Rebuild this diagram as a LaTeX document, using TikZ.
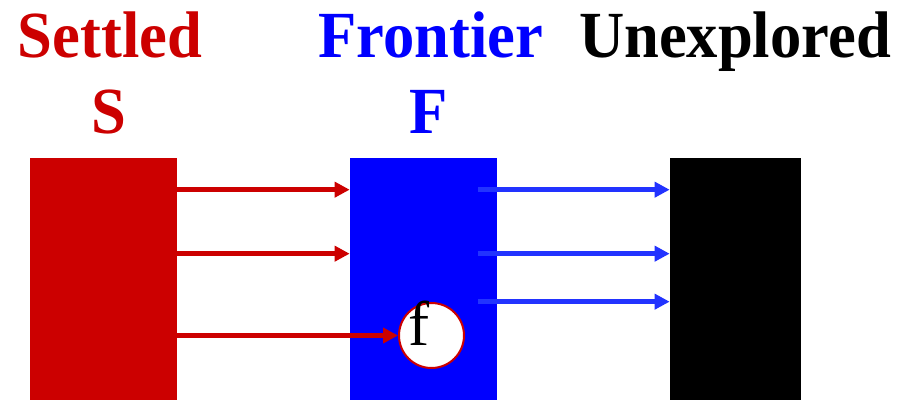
\documentclass[tikz,border=0pt]{standalone}
\usepackage{fontspec}
\usepackage{graphicx}
\setmainfont{Liberation Serif}
\usetikzlibrary{calc,arrows.meta}
\definecolor{setred}{HTML}{CC0000}
\definecolor{frblue}{HTML}{0000FF}
\definecolor{arblue}{HTML}{2233FF}
\newcommand{\narrow}[1]{\scalebox{0.95}[1]{#1}}
\begin{document}
\begin{tikzpicture}[x=0.02cm,y=-0.02cm,
  title/.style={font=\fontsize{37.5}{37.5}\selectfont\bfseries,inner sep=0pt,anchor=base},
  box/.style={rectangle,inner sep=0pt,minimum height=4.84cm},
  redarrow/.style={setred,line width=0.09cm,-{Triangle[length=0.3cm,width=0.3cm]}},
  bluearrow/.style={arblue,line width=0.09cm,-{Triangle[length=0.3cm,width=0.3cm]}}]
\useasboundingbox (0,0) rectangle (897,403);

\node[title,setred] (lblsettled) at (110,57) {\narrow{Settled}};
\node[title,setred] (lbls) at (109,133) {\narrow{S}};
\node[title,frblue] (lblfrontier) at (431,57) {\narrow{Frontier}};
\node[title,frblue] (lblf) at (429,133) {\narrow{F}};
\node[title] (lblunexplored) at (735,57) {\narrow{Unexplored}};

\node[box,fill=setred,minimum width=2.94cm] (settled) at (103.5,279) {};
\node[box,fill=frblue,minimum width=2.94cm] (frontier) at (423.5,279) {};
\node[box,fill=black,minimum width=2.62cm] (unexplored) at (735.5,279) {};

\node[circle,draw=setred,line width=0.04cm,fill=white,minimum size=1.3cm,inner sep=0pt] (fnode) at (431.5,335.5) {};
\node[font=\fontsize{36}{36}\selectfont,inner sep=0pt,anchor=base] (flbl) at (419,345) {f};

\draw[redarrow] ($(settled.north east)+(0,32)$) -- ($(frontier.north west)+(0,32)$);
\draw[redarrow] ($(settled.north east)+(0,96)$) -- ($(frontier.north west)+(0,96)$);
\draw[redarrow] (settled.east |- fnode.west) -- (fnode.west);

\draw[bluearrow] ($(frontier.north east)+(-19,32)$) -- ($(unexplored.north west)+(0,32)$);
\draw[bluearrow] ($(frontier.north east)+(-19,96)$) -- ($(unexplored.north west)+(0,96)$);
\draw[bluearrow] ($(frontier.north east)+(-19,144)$) -- ($(unexplored.north west)+(0,144)$);
\end{tikzpicture}
\end{document}
